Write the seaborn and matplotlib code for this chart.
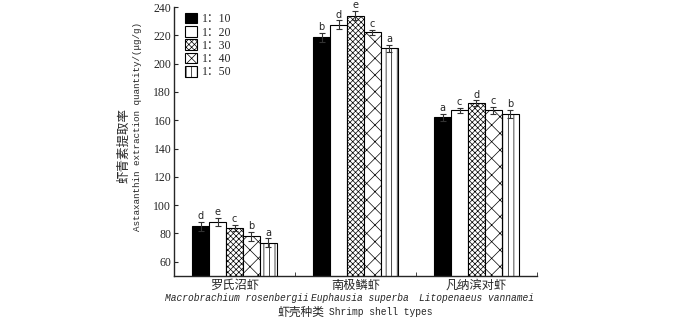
import numpy as np
import pandas as pd
import matplotlib
matplotlib.use("Agg")
import matplotlib.pyplot as plt
import matplotlib.patches as mpatches
import seaborn as sns

# 数据
species_cn = ["罗氏沼虾", "南极鳞虾", "凡纳滨对虾"]
species_latin = ["Macrobrachium rosenbergii", "Euphausia superba", "Litopenaeus vannamei"]
ratios = ["1：10", "1：20", "1：30", "1：40", "1：50"]

vals_10 = [85, 218.5, 162]
vals_20 = [88, 227.5, 167]
vals_30 = [84, 234, 172]
vals_40 = [78, 222, 167]
vals_50 = [73.5, 211, 164.5]

err_10 = [3, 3, 2.5]
err_20 = [3, 3, 2]
err_30 = [2, 3, 2]
err_40 = [3, 2, 2.5]
err_50 = [3, 2.5, 3]

letters_10 = ["d", "b", "a"]
letters_20 = ["e", "d", "c"]
letters_30 = ["c", "e", "d"]
letters_40 = ["b", "c", "c"]
letters_50 = ["a", "a", "b"]

all_vals = [vals_10, vals_20, vals_30, vals_40, vals_50]
all_err = [err_10, err_20, err_30, err_40, err_50]
all_letters = [letters_10, letters_20, letters_30, letters_40, letters_50]

rows = []
for r, v in zip(ratios, all_vals):
    for s, y in zip(species_cn, v):
        rows.append({"species": s, "ratio": r, "value": y})
df = pd.DataFrame(rows)

sns.set_style("ticks")
plt.rcParams["font.family"] = ["Liberation Serif", "Noto Sans CJK SC"]
plt.rcParams["hatch.linewidth"] = 0.5
plt.rcParams["hatch.color"] = "#444444"
MONO = ["Liberation Mono", "Noto Sans CJK SC"]

fig = plt.figure(figsize=(7, 3.19), dpi=100)
ax = fig.add_axes([0.2486, 0.135, 0.5185, 0.843])

facecolors = ["black", "white", "white", "white", "white"]
hatches = ["", "", "xxxxxx", "xx", "|||"]

sns.barplot(data=df, x="species", y="value", hue="ratio", order=species_cn,
            hue_order=ratios, width=0.7, ax=ax, legend=False,
            edgecolor="black", linewidth=0.8, errorbar=None)

# 每组样式、误差棒和字母
bar_conts = list(ax.containers)
for i, cont in enumerate(bar_conts):
    for j, bar in enumerate(cont):
        bar.set_facecolor(facecolors[i])
        bar.set_hatch(hatches[i])
        x = bar.get_x() + bar.get_width() / 2
        h = bar.get_height()
        e = all_err[i][j]
        ax.errorbar(x, h, yerr=e, fmt="none", ecolor="#333333",
                    elinewidth=0.8, capsize=2.5, capthick=0.8)
        ax.text(x, h + e + 0.6, all_letters[i][j], ha="center", va="bottom",
                fontsize=7, family="DejaVu Sans")

ax.set_ylim(50, 240)
ax.set_xlim(-0.5, 2.5)
ax.set_yticks(np.arange(60, 241, 20))
ax.set_xticks([0, 1, 2])
ax.set_xticklabels([])
ax.set_xticks([0.5, 1.5, 2.5], minor=True)
ax.tick_params(axis="y", direction="in", length=3, labelsize=8.5, pad=2)
ax.tick_params(axis="x", which="major", length=0)
ax.tick_params(axis="x", which="minor", direction="in", length=3)
sns.despine(ax=ax)
for sp in ["left", "bottom"]:
    ax.spines[sp].set_linewidth(1.0)
ax.set_xlabel("")
ax.set_ylabel("")

# x 轴类别标签（中文 + 拉丁名）
latin_shift = [0.02, 0.04, 0.0]
for k in range(3):
    ax.text(k, -0.01, species_cn[k], transform=ax.get_xaxis_transform(),
            ha="center", va="top", fontsize=8.8, family=["Noto Sans CJK SC"])
    ax.text(k + latin_shift[k], -0.064, species_latin[k],
            transform=ax.get_xaxis_transform(), ha="center", va="top",
            fontsize=6.9, style="italic", family=MONO)

# x 轴标题
fig.text(0.396, 0.022, "虾壳种类", ha="left", va="center",
         fontsize=8.5, family=["Noto Sans CJK SC"])
fig.text(0.470, 0.022, "Shrimp shell types", ha="left", va="center",
         fontsize=6.9, family=MONO)

# y 轴标题
fig.text(0.177, 0.544, "虾青素提取率", rotation=90, ha="center", va="center",
         fontsize=9, family=MONO)
fig.text(0.1965, 0.602, "Astaxanthin extraction quantity/(μg/g)", rotation=90,
         ha="center", va="center", fontsize=6.7, family=MONO)

handles = [mpatches.Patch(facecolor=facecolors[i], edgecolor="black",
                          hatch=hatches[i], linewidth=0.8) for i in range(5)]
ax.legend(handles, ratios, loc="upper left", bbox_to_anchor=(0.015, 1.0),
          frameon=False, fontsize=8.5, handlelength=1.0, handleheight=1.0,
          handletextpad=0.4, labelspacing=0.08, borderaxespad=0.1)

fig.savefig("out.png", dpi=100)
